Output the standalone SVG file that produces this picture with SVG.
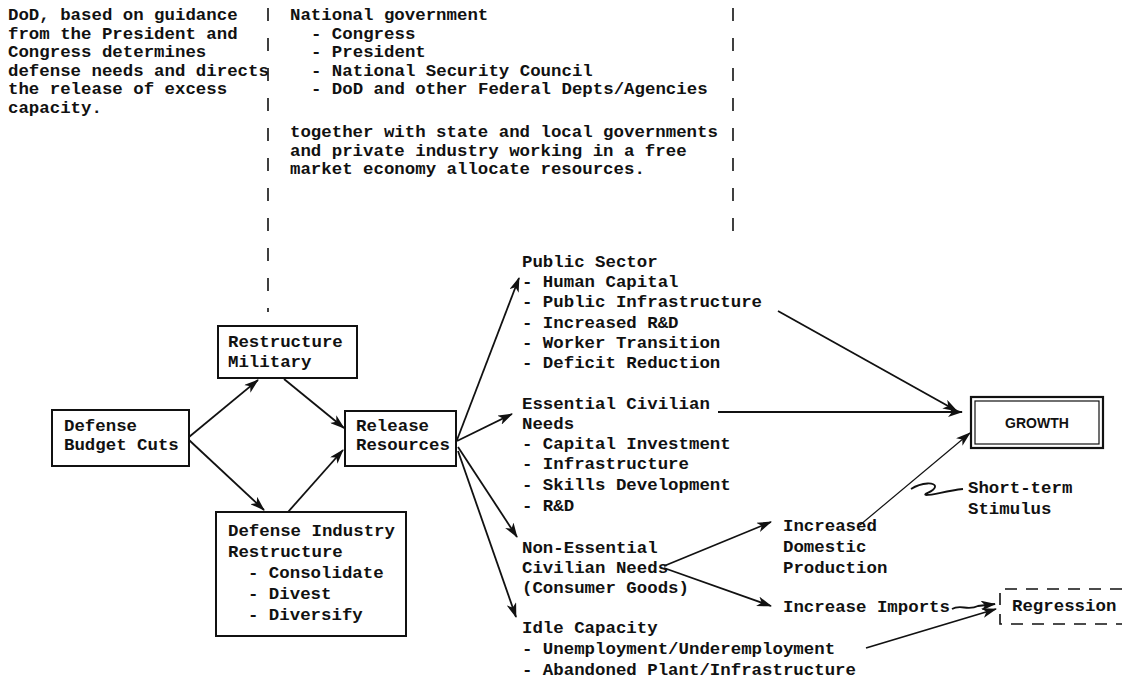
<svg xmlns="http://www.w3.org/2000/svg" width="1122" height="680" viewBox="0 0 1122 680">
<style>
.t{font-family:"Liberation Mono","DejaVu Sans Mono",monospace;font-size:17.4px;font-weight:bold;fill:#111}
.box{fill:none;stroke:#111;stroke-width:2}
.dash{fill:none;stroke:#111;stroke-width:1.6;stroke-dasharray:13 17}
.c{fill:none;stroke:#111;stroke-width:1.8}
.thin{fill:none;stroke:#111;stroke-width:1.2}
.g{font-family:"Liberation Sans","DejaVu Sans",sans-serif;font-size:14px;font-weight:bold;fill:#111}
</style>
<defs>
<marker id="ah" markerUnits="userSpaceOnUse" markerWidth="16" markerHeight="10" refX="14" refY="5" orient="auto">
<path d="M0,0 L15,5 L0,10 L4,5 z" fill="#111"/>
</marker>
</defs>
<rect width="1122" height="680" fill="#fff"/>

<g id="note-dod">
<text class="t" x="8" y="20">DoD, based on guidance</text>
<text class="t" x="8" y="38.5">from the President and</text>
<text class="t" x="8" y="57">Congress determines</text>
<text class="t" x="8" y="75.5">defense needs and directs</text>
<text class="t" x="8" y="94">the release of excess</text>
<text class="t" x="8" y="112.5">capacity.</text>
</g>

<g id="note-national">
<text class="t" x="290" y="20">National government</text>
<text class="t" x="311" y="38.5">- Congress</text>
<text class="t" x="311" y="57">- President</text>
<text class="t" x="311" y="75.5">- National Security Council</text>
<text class="t" x="311" y="94">- DoD and other Federal Depts/Agencies</text>
<text class="t" x="290" y="137">together with state and local governments</text>
<text class="t" x="290" y="155.5">and private industry working in a free</text>
<text class="t" x="290" y="174">market economy allocate resources.</text>
</g>

<g id="dividers">
<line class="dash" x1="268" y1="8" x2="268" y2="312"/>
<line class="dash" x1="733" y1="8" x2="733" y2="246"/>
</g>

<g id="budget-cuts">
<rect class="box" x="52" y="410" width="137" height="56"/>
<text class="t" x="64" y="431">Defense</text>
<text class="t" x="64" y="450">Budget Cuts</text>
</g>

<g id="restructure-military">
<rect class="box" x="218" y="326" width="139" height="52"/>
<text class="t" x="228" y="347">Restructure</text>
<text class="t" x="228" y="367">Military</text>
</g>

<g id="release-resources">
<rect class="box" x="345" y="411" width="111" height="55"/>
<text class="t" x="356" y="431">Release</text>
<text class="t" x="356" y="450">Resources</text>
</g>

<g id="defense-industry">
<rect class="box" x="216" y="512" width="190" height="124"/>
<text class="t" x="228" y="536">Defense Industry</text>
<text class="t" x="228" y="557">Restructure</text>
<text class="t" x="248" y="578">- Consolidate</text>
<text class="t" x="248" y="599">- Divest</text>
<text class="t" x="248" y="620">- Diversify</text>
</g>

<g id="public-sector">
<text class="t" x="522" y="267">Public Sector</text>
<text class="t" x="522" y="287">- Human Capital</text>
<text class="t" x="522" y="307">- Public Infrastructure</text>
<text class="t" x="522" y="328">- Increased R&amp;D</text>
<text class="t" x="522" y="348">- Worker Transition</text>
<text class="t" x="522" y="368">- Deficit Reduction</text>
</g>

<g id="essential">
<text class="t" x="522" y="409">Essential Civilian</text>
<text class="t" x="522" y="429">Needs</text>
<text class="t" x="522" y="449">- Capital Investment</text>
<text class="t" x="522" y="469">- Infrastructure</text>
<text class="t" x="522" y="490">- Skills Development</text>
<text class="t" x="522" y="511">- R&amp;D</text>
</g>

<g id="non-essential">
<text class="t" x="522" y="553">Non-Essential</text>
<text class="t" x="522" y="573">Civilian Needs</text>
<text class="t" x="522" y="593">(Consumer Goods)</text>
</g>

<g id="idle">
<text class="t" x="522" y="633">Idle Capacity</text>
<text class="t" x="522" y="654">- Unemployment/Underemployment</text>
<text class="t" x="522" y="675">- Abandoned Plant/Infrastructure</text>
</g>

<g id="domestic">
<text class="t" x="783" y="531">Increased</text>
<text class="t" x="783" y="552">Domestic</text>
<text class="t" x="783" y="573">Production</text>
</g>

<g id="imports">
<text class="t" x="783" y="612">Increase Imports</text>
</g>

<g id="stimulus">
<text class="t" x="968" y="493">Short-term</text>
<text class="t" x="968" y="514">Stimulus</text>
</g>

<g id="growth">
<rect x="971" y="397" width="132" height="51" fill="none" stroke="#111" stroke-width="2.2"/>
<rect x="975" y="401" width="124" height="43" fill="none" stroke="#111" stroke-width="1.2"/>
<text class="g" x="1037" y="428" text-anchor="middle">GROWTH</text>
</g>

<g id="regression">
<path d="M1122,589 L1000,589 L1000,624 L1122,624" fill="none" stroke="#111" stroke-width="1.6" stroke-dasharray="12 9"/>
<text class="t" x="1012" y="611">Regression</text>
</g>

<g id="connectors">
<line class="c" x1="189" y1="437" x2="258" y2="380" marker-end="url(#ah)"/>
<line class="c" x1="189" y1="440" x2="264" y2="510" marker-end="url(#ah)"/>
<line class="c" x1="284" y1="379" x2="344" y2="428" marker-end="url(#ah)"/>
<line class="c" x1="288" y1="512" x2="343" y2="450" marker-end="url(#ah)"/>
<line class="c" x1="457" y1="440" x2="519" y2="278" marker-end="url(#ah)"/>
<line class="c" x1="457" y1="441" x2="512" y2="414" marker-end="url(#ah)"/>
<line class="c" x1="458" y1="447" x2="517" y2="537" marker-end="url(#ah)"/>
<line class="c" x1="458" y1="451" x2="516" y2="617" marker-end="url(#ah)"/>
<line class="c" x1="778" y1="311" x2="957" y2="411" marker-end="url(#ah)"/>
<line class="c" x1="718" y1="412" x2="962" y2="412" marker-end="url(#ah)"/>
<line class="thin" x1="860" y1="525" x2="970" y2="433" marker-end="url(#ah)"/>
<line class="c" x1="664" y1="566" x2="771" y2="522" marker-end="url(#ah)"/>
<line class="c" x1="664" y1="568" x2="771" y2="606" marker-end="url(#ah)"/>
<path class="c" d="M952,609 C960,604 968,611 978,606 L995,604" marker-end="url(#ah)"/>
<line class="c" x1="866" y1="648" x2="996" y2="609" marker-end="url(#ah)"/>
<path class="c" d="M911,489 C922,482 936,482 935,487 C934,492 922,494 926,495 C934,495 945,491 963,489"/>
</g>
</svg>
